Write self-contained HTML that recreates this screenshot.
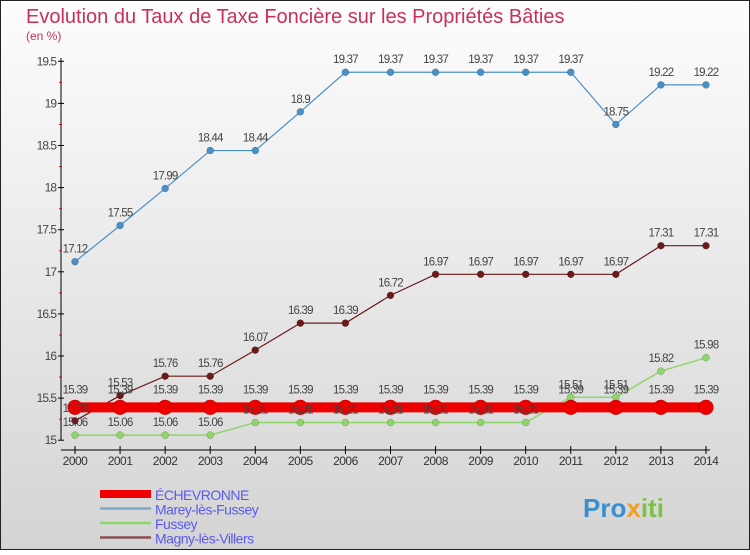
<!DOCTYPE html>
<html><head><meta charset="utf-8"><style>
html,body{margin:0;padding:0}
body{width:750px;height:550px;overflow:hidden;font-family:"Liberation Sans",sans-serif}
</style></head><body>
<svg width="750" height="550" xmlns="http://www.w3.org/2000/svg">
<defs><linearGradient id="bg" x1="0" y1="0" x2="0" y2="1"><stop offset="0" stop-color="#fdfdfd"/><stop offset="1" stop-color="#d4d4d4"/></linearGradient></defs>
<rect x="0.5" y="0.5" width="749" height="549" fill="url(#bg)" stroke="#222"/>
<text x="26" y="23" font-size="20" fill="#c8305a">Evolution du Taux de Taxe Foncière sur les Propriétés Bâties</text>
<text x="26" y="40" font-size="12" fill="#c8305a">(en %)</text>
<g id="axes"></g>
<g id="series"></g>
<g id="labels"></g>
<g id="legend"></g>
<text x="583" y="517" font-size="26" font-weight="bold" fill="#3a8fd0">Pro<tspan fill="#f0a020">x</tspan><tspan fill="#7cc242">iti</tspan></text>
</svg>
<script>
const years=[2000,2001,2002,2003,2004,2005,2006,2007,2008,2009,2010,2011,2012,2013,2014];
const yTicks=[15,15.5,16,16.5,17,17.5,18,18.5,19,19.5];
const echevronne=[15.39,15.39,15.39,15.39,15.39,15.39,15.39,15.39,15.39,15.39,15.39,15.39,15.39,15.39,15.39];
const marey=[17.12,17.55,17.99,18.44,18.44,18.9,19.37,19.37,19.37,19.37,19.37,19.37,18.75,19.22,19.22];
const fussey=[15.06,15.06,15.06,15.06,15.21,15.21,15.21,15.21,15.21,15.21,15.21,15.51,15.51,15.82,15.98];
const magny=[15.23,15.53,15.76,15.76,16.07,16.39,16.39,16.72,16.97,16.97,16.97,16.97,16.97,17.31,17.31];
const NS="http://www.w3.org/2000/svg";
function xs(i){return 75+i*45.07;}
function ys(v){return 440.2-(v-15)*84.2;}
function mk(t,a,p){const e=document.createElementNS(NS,t);for(const k in a)e.setAttribute(k,a[k]);(p||document.getElementById('series')).appendChild(e);return e;}
const ax=document.getElementById('axes');
const lab=document.getElementById('labels');
let e=mk('line',{x1:61,y1:58,x2:61,y2:440,stroke:'#000'},ax);


e=mk('line',{x1:61,y1:450,x2:710,y2:450,stroke:'#000'},ax);


yTicks.forEach(v=>{const y=ys(v);
 mk('line',{x1:58,y1:y,x2:64,y2:y,stroke:'#000'},ax);
 if(v<19.5)mk('line',{x1:59,y1:y-21,x2:62,y2:y-21,stroke:'#e00'},ax);
 const t=mk('text',{x:56,y:y+4,'font-size':12,'text-anchor':'end',fill:'#444','letter-spacing':'-1'},ax);t.textContent=String(v);
 
 });
years.forEach((yr,i)=>{const x=xs(i);
 mk('line',{x1:x,y1:446,x2:x,y2:454,stroke:'#000'},ax);
 const t=mk('text',{x:x,y:465,'font-size':12,'text-anchor':'middle',fill:'#333','letter-spacing':'-0.5'},ax);t.textContent=String(yr);
 
 });
function series(vals,color,w,r,name,off){
 const g=mk('g',{});
 
 
 mk('polyline',{points:vals.map((v,i)=>xs(i)+','+ys(v)).join(' '),fill:'none',stroke:color,'stroke-width':w},g);
 vals.forEach((v,i)=>{const c=mk('circle',{cx:xs(i),cy:ys(v),r:r,fill:color,stroke:'rgba(0,0,0,0.3)','stroke-width':0.5},g);
  
  
  const t=mk('text',{x:xs(i),y:ys(v)+off,'font-size':11.5,'text-anchor':'middle',fill:'#444','letter-spacing':'-0.8'},lab);t.textContent=v.toFixed(2).replace(/0$/,'');
  
  });
}
series(fussey,'#8fd66a',1.5,3.5,'fussey',-9);
series(marey,'#4a90c8',1.2,3.5,'marey-les-fussey',-9);
series(magny,'#6b1a1a',1.2,3.5,'magny-les-villers',-9);
series(echevronne,'#ee0000',10,7.5,'echevronne',-14);
const leg=document.getElementById('legend');
[['ÉCHEVRONNE','#ee0000',8],['Marey-lès-Fussey','#7aaac8',2.5],['Fussey','#8fd66a',2.5],['Magny-lès-Villers','#8a5050',2.5]].forEach((d,i)=>{
 const y=494+i*14.5;
 const g=mk('g',{},leg);
 
 
 mk('line',{x1:100,y1:y,x2:151,y2:y,stroke:d[1],'stroke-width':d[2]},g);
 const t=mk('text',{x:155,y:y+6,'font-size':14,fill:'#5a5aee','letter-spacing':'-0.5'},g);t.textContent=d[0];
});
</script>
</body></html>
